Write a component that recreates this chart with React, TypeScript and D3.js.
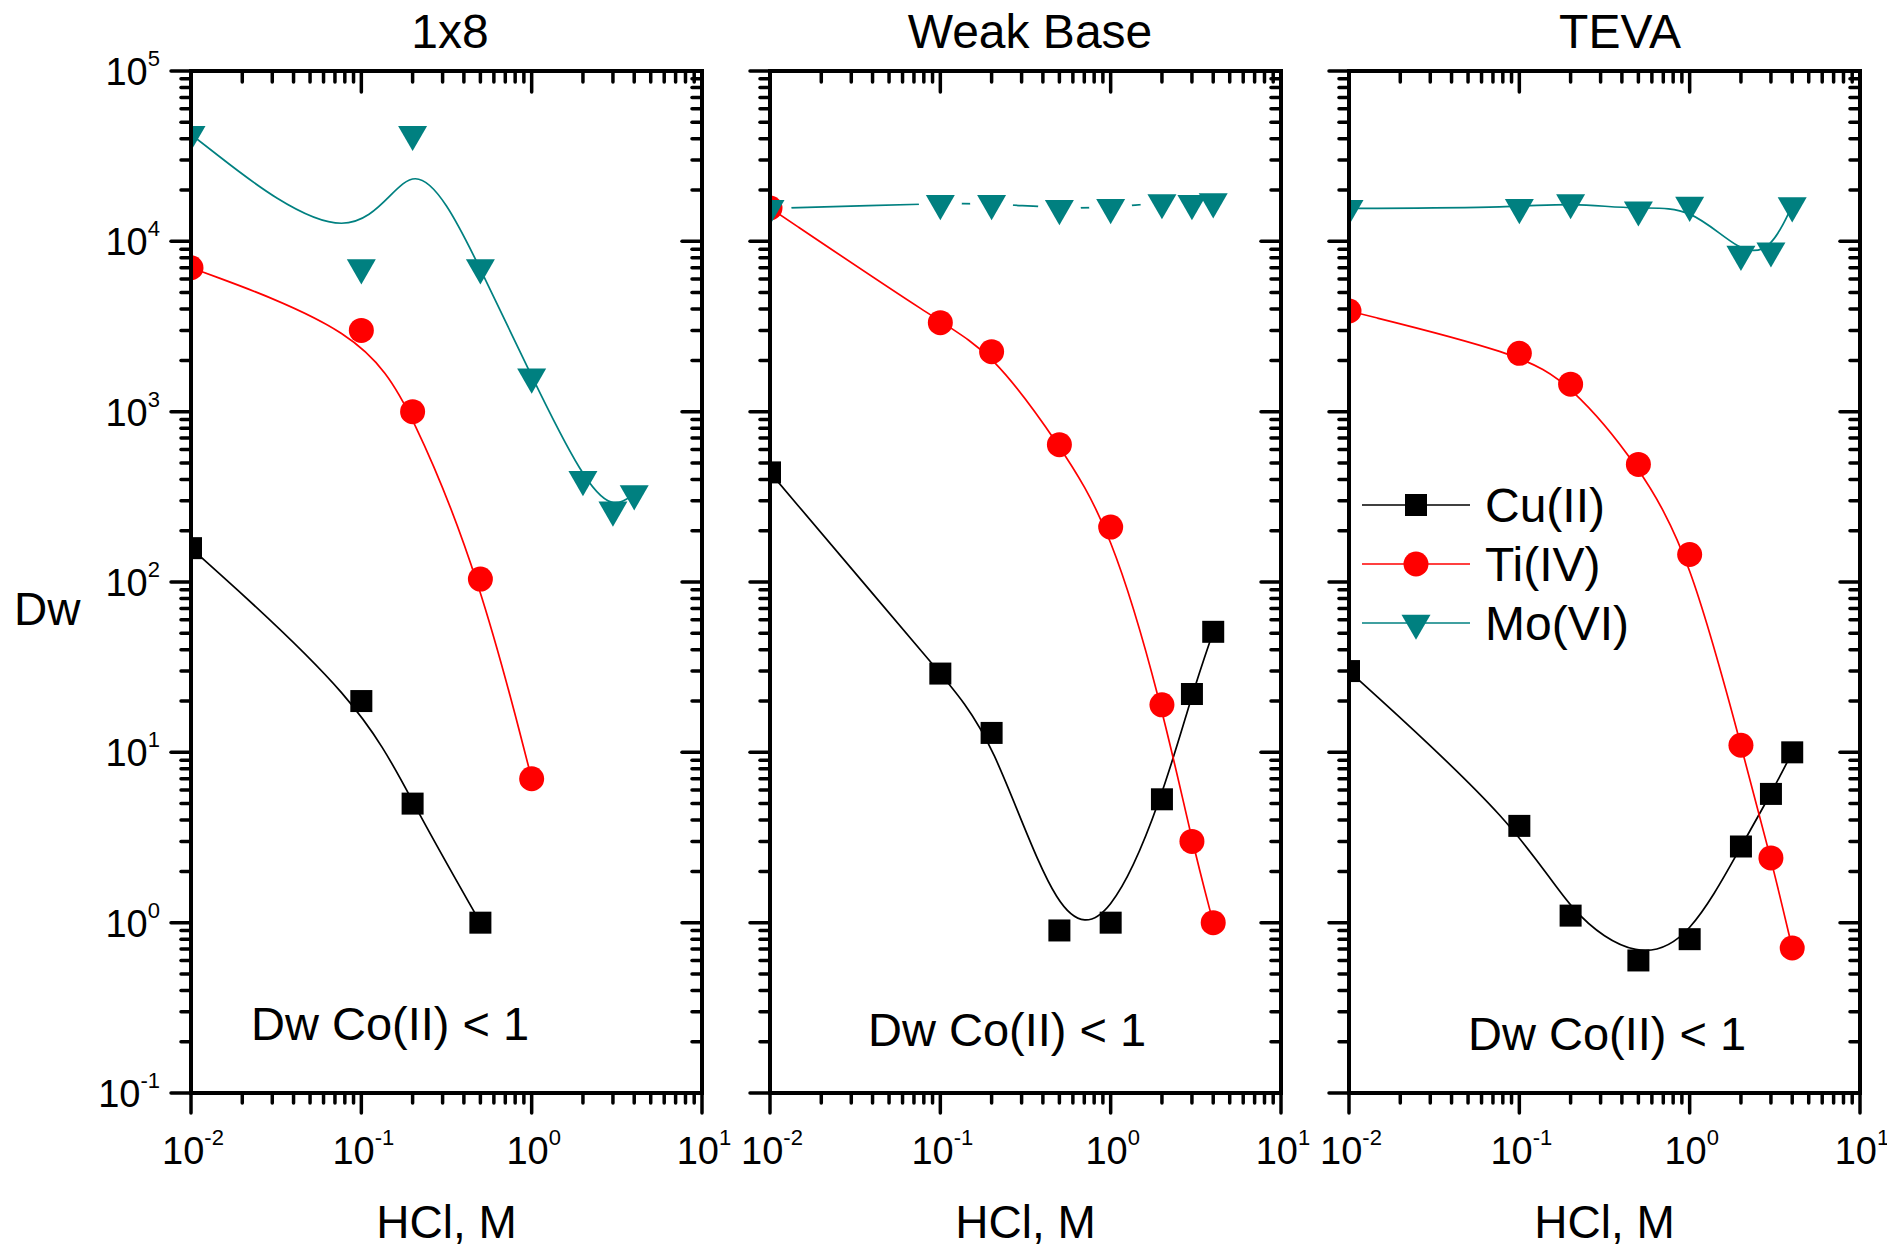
import React from "react";
import * as d3 from "d3";

// ---------- data ----------
const panelTitles = ["1x8", "Weak Base", "TEVA"];
const seriesNames = ["Cu(II)", "Ti(IV)", "Mo(VI)"];
const seriesColors = ["#000000", "#FF0000", "#008080"];
const annotation = "Dw Co(II) < 1";
const xLabel = "HCl, M";
const yLabel = "Dw";

const xDecades = [0.01, 0.1, 1, 10];
const xDecadeExp = ["-2", "-1", "0", "1"];
const yDecades = [0.1, 1, 10, 100, 1000, 10000, 100000];
const yDecadeExp = ["-1", "0", "1", "2", "3", "4", "5"];

// Panel 1: 1x8
const x1Cu = [0.01, 0.1, 0.2, 0.5];
const y1Cu = [158, 20, 5, 1];
const x1Ti = [0.01, 0.1, 0.2, 0.5, 1];
const y1Ti = [7000, 3000, 1000, 104, 7];
const x1Mo = [0.01, 0.1, 0.2, 0.5, 1, 2, 3, 4];
const y1Mo = [42500, 7000, 42500, 7000, 1600, 400, 265, 330];

// Panel 2: Weak Base
const x2 = [0.01, 0.1, 0.2, 0.5, 1, 2, 3, 4];
const y2Cu = [440, 29, 13, 0.9, 1.0, 5.3, 22, 51];
const y2Ti = [15700, 3330, 2250, 640, 210, 19, 3, 1];
const y2Mo = [15600, 16700, 16700, 15600, 15800, 16900, 16700, 17100];

// Panel 3: TEVA
const x3 = [0.01, 0.1, 0.2, 0.5, 1, 2, 3, 4];
const y3Cu = [30, 3.7, 1.1, 0.6, 0.8, 2.8, 5.7, 10];
const y3Ti = [3900, 2200, 1450, 490, 145, 11, 2.4, 0.71];
const y3Mo = [15600, 15800, 16900, 15300, 16300, 8400, 8800, 16200];

// ---------- layout ----------
const W = 1887;
const H = 1249;
const panelLefts = [191, 770, 1349];
const panelW = 511;
const TOP = 71;
const BOTTOM = 1093;
const titleX = [450, 1030, 1620];
const annX = [251, 868, 1468];
const annY = [1040, 1046, 1050];
const FONT = "'Liberation Sans', Arial, Helvetica, sans-serif";

type Series = { x: number[]; y: number[] };

const panels: { title: string; series: Series[]; gapMo: boolean }[] = [
  { title: panelTitles[0], series: [{ x: x1Cu, y: y1Cu }, { x: x1Ti, y: y1Ti }, { x: x1Mo, y: y1Mo }], gapMo: false },
  { title: panelTitles[1], series: [{ x: x2, y: y2Cu }, { x: x2, y: y2Ti }, { x: x2, y: y2Mo }], gapMo: true },
  { title: panelTitles[2], series: [{ x: x3, y: y3Cu }, { x: x3, y: y3Ti }, { x: x3, y: y3Mo }], gapMo: false },
];

function Marker({ kind, cx, cy, color }: { kind: number; cx: number; cy: number; color: string }) {
  if (kind === 0) {
    const s = 22;
    return <rect x={cx - s / 2} y={cy - s / 2} width={s} height={s} fill={color} />;
  }
  if (kind === 1) {
    return <circle cx={cx} cy={cy} r={12.5} fill={color} />;
  }
  const side = 29;
  const h = side * 0.866;
  const pts = [
    [cx - side / 2, cy - h / 3],
    [cx + side / 2, cy - h / 3],
    [cx, cy + (2 * h) / 3],
  ];
  return <polygon points={pts.map((p) => p.join(",")).join(" ")} fill={color} />;
}

function minorTicks(decades: number[]) {
  const out: number[] = [];
  for (let i = 0; i < decades.length - 1; i++) {
    for (let k = 2; k <= 9; k++) out.push(decades[i] * k);
  }
  return out;
}

function PowerLabel({ x, y, exp, anchor }: { x: number; y: number; exp: string; anchor: string }) {
  return (
    <text x={x} y={y} fontSize={38} fontFamily={FONT} textAnchor={anchor as any} fill="#000">
      10
      <tspan fontSize={22} dy={-19}>
        {exp}
      </tspan>
    </text>
  );
}

export default function App() {
  const yScale = d3.scaleLog().domain([0.1, 100000]).range([BOTTOM, TOP]);
  const yMinor = minorTicks(yDecades);
  const xMinor = minorTicks(xDecades);
  const line = d3
    .line<[number, number]>()
    .x((d) => d[0])
    .y((d) => d[1])
    .curve(d3.curveBasis);
  const tk = { stroke: "#000", strokeWidth: 3.5, strokeLinecap: "round" as const };

  return (
    <svg
      width={W}
      height={H}
      style={{ position: "absolute", left: 0, top: 0, background: "#fff" }}
      xmlns="http://www.w3.org/2000/svg"
    >
      <rect x={0} y={0} width={W} height={H} fill="#fff" />
      <defs>
        {panels.map((p, pi) => (
          <clipPath id={`clip${pi}`} key={`c${pi}`}>
            <rect x={panelLefts[pi]} y={TOP} width={panelW} height={BOTTOM - TOP} />
          </clipPath>
        ))}
        {panels.map((p, pi) => {
          const xs = d3.scaleLog().domain([0.01, 10]).range([panelLefts[pi], panelLefts[pi] + panelW]);
          const mo = p.series[2];
          return (
            <mask id={`mask${pi}`} key={`m${pi}`} maskUnits="userSpaceOnUse" x={0} y={0} width={W} height={H}>
              <rect x={0} y={0} width={W} height={H} fill="#fff" />
              {p.gapMo &&
                mo.x.map((xv, i) => (
                  <circle key={i} cx={xs(xv)} cy={yScale(mo.y[i])} r={21.5} fill="#000" />
                ))}
            </mask>
          );
        })}
      </defs>

      {panels.map((p, pi) => {
        const left = panelLefts[pi];
        const right = left + panelW;
        const xScale = d3.scaleLog().domain([0.01, 10]).range([left, right]);
        const cx = (left + right) / 2;
        return (
          <g key={pi}>
            {/* title */}
            <text x={titleX[pi]} y={48} fontSize={48} fontFamily={FONT} textAnchor="middle" fill="#000">
              {p.title}
            </text>

            {/* series */}
            <g clipPath={`url(#clip${pi})`}>
              {p.series.map((s, si) => {
                const pts: [number, number][] = s.x.map((xv, i) => [xScale(xv), yScale(s.y[i])]);
                return (
                  <g key={si}>
                    <path
                      d={line(pts) || ""}
                      fill="none"
                      stroke={seriesColors[si]}
                      strokeWidth={1.7}
                      mask={si === 2 && p.gapMo ? `url(#mask${pi})` : undefined}
                    />
                    {pts.map((pt, i) => (
                      <Marker key={i} kind={si} cx={pt[0]} cy={pt[1]} color={seriesColors[si]} />
                    ))}
                  </g>
                );
              })}
            </g>

            {/* frame */}
            <rect x={left} y={TOP} width={panelW} height={BOTTOM - TOP} fill="none" stroke="#000" strokeWidth={4} />

            {/* y ticks: left outward, right inward */}
            {yDecades.map((v, i) => (
              <g key={`yM${i}`}>
                <line x1={left - 20} x2={left} y1={yScale(v)} y2={yScale(v)} {...tk} />
                <line x1={right - 20} x2={right} y1={yScale(v)} y2={yScale(v)} {...tk} />
              </g>
            ))}
            {yMinor.map((v, i) => (
              <g key={`ym${i}`}>
                <line x1={left - 10} x2={left} y1={yScale(v)} y2={yScale(v)} {...tk} />
                <line x1={right - 10} x2={right} y1={yScale(v)} y2={yScale(v)} {...tk} />
              </g>
            ))}

            {/* x ticks: bottom outward, top inward */}
            {xDecades.map((v, i) => (
              <g key={`xM${i}`}>
                <line x1={xScale(v)} x2={xScale(v)} y1={BOTTOM} y2={BOTTOM + 20} {...tk} />
                <line x1={xScale(v)} x2={xScale(v)} y1={TOP} y2={TOP + 21} {...tk} />
              </g>
            ))}
            {xMinor.map((v, i) => (
              <g key={`xm${i}`}>
                <line x1={xScale(v)} x2={xScale(v)} y1={BOTTOM} y2={BOTTOM + 10} {...tk} />
                <line x1={xScale(v)} x2={xScale(v)} y1={TOP} y2={TOP + 11} {...tk} />
              </g>
            ))}

            {/* x tick labels */}
            {xDecades.map((v, i) => (
              <PowerLabel key={`xl${i}`} x={xScale(v) + 2} y={1164} exp={xDecadeExp[i]} anchor="middle" />
            ))}

            {/* y tick labels on first panel only */}
            {pi === 0 &&
              yDecades.map((v, i) => (
                <PowerLabel key={`yl${i}`} x={160} y={yScale(v) + 14} exp={yDecadeExp[i]} anchor="end" />
              ))}

            {/* annotation */}
            <text x={annX[pi]} y={annY[pi]} fontSize={47} fontFamily={FONT} fill="#000">
              {annotation}
            </text>

            {/* x axis label */}
            <text x={cx} y={1238} fontSize={46} fontFamily={FONT} textAnchor="middle" fill="#000">
              {xLabel}
            </text>
          </g>
        );
      })}

      {/* y axis label */}
      <text x={14} y={625} fontSize={46} fontFamily={FONT} fill="#000">
        {yLabel}
      </text>

      {/* legend in third panel */}
      {seriesNames.map((name, i) => {
        const ly = 505 + i * 59;
        return (
          <g key={`lg${i}`}>
            <line x1={1362} x2={1470} y1={ly} y2={ly} stroke={seriesColors[i]} strokeWidth={1.7} />
            <Marker kind={i} cx={1416} cy={ly} color={seriesColors[i]} />
            <text x={1485} y={ly + 17} fontSize={48} fontFamily={FONT} fill="#000">
              {name}
            </text>
          </g>
        );
      })}
    </svg>
  );
}
